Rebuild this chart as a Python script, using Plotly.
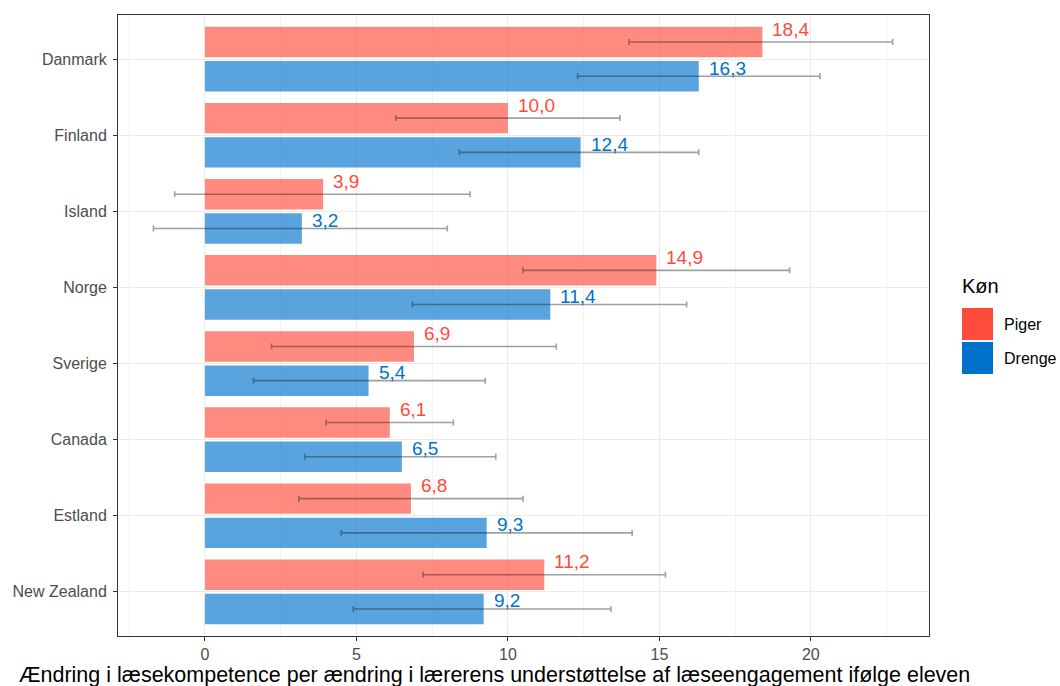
import plotly.graph_objects as go

# Country categories, top to bottom
categories = ["Danmark", "Finland", "Island", "Norge", "Sverige", "Canada", "Estland", "New Zealand"]

# Estimates per gender
piger = [18.4, 10.0, 3.9, 14.9, 6.9, 6.1, 6.8, 11.2]
drenge = [16.3, 12.4, 3.2, 11.4, 5.4, 6.5, 9.3, 9.2]

# Confidence interval bounds
piger_lo = [14.0, 6.3, -1.0, 10.5, 2.2, 4.0, 3.1, 7.2]
piger_hi = [22.7, 13.7, 8.75, 19.3, 11.6, 8.2, 10.5, 15.2]
drenge_lo = [12.3, 8.4, -1.7, 6.85, 1.6, 3.3, 4.5, 4.9]
drenge_hi = [20.3, 16.3, 8.0, 15.9, 9.25, 9.6, 14.1, 13.4]

x_ticks = [0, 5, 10, 15, 20]
legend_title = "Køn"
groups = ["Piger", "Drenge"]
x_title = "Ændring i læsekompetence per ændring i lærerens understøttelse af læseengagement ifølge eleven"

COL_PIGER = "#FF4B3B"
COL_DRENGE = "#0072CE"
FONT = "Liberation Sans, Arial, sans-serif"

# plot area in pixels (for legend placement in paper coordinates)
W, H = 1060, 686
ML, MR, MT, MB = 118, 131, 15, 50
PW, PH = W - ML - MR, H - MT - MB


def px_x(p):
    return (p - ML) / PW


def px_y(p):
    return 1 - (p - MT) / PH


def fmt(v):
    return f"{v:.1f}".replace(".", ",")


fig = go.Figure()

series = [
    (groups[0], piger, piger_lo, piger_hi, COL_PIGER, -0.425, -0.225, 13),
    (groups[1], drenge, drenge_lo, drenge_hi, COL_DRENGE, 0.025, 0.225, 8),
]

annotations = []
for name, vals, lo, hi, col, off, center, lift in series:
    fig.add_trace(go.Bar(
        name=name,
        orientation="h",
        y=categories,
        x=vals,
        offset=off,
        width=0.4,
        marker=dict(color=col, opacity=0.65, line=dict(width=0)),
        error_x=dict(
            type="data",
            symmetric=False,
            array=[h - v for h, v in zip(hi, vals)],
            arrayminus=[v - l for v, l in zip(vals, lo)],
            color="rgba(30,30,30,0.42)",
            thickness=1.6,
            width=3,
        ),
        showlegend=False,
        hoverinfo="skip",
    ))
    for i, v in enumerate(vals):
        annotations.append(dict(
            x=v, y=i + center, xref="x", yref="y",
            text=fmt(v), showarrow=False,
            xanchor="left", yanchor="middle",
            xshift=8, yshift=lift,
            font=dict(family=FONT, size=19, color=col),
        ))

# x-axis title
annotations.append(dict(
    x=px_x(494), y=px_y(674.5), xref="paper", yref="paper",
    text=x_title, showarrow=False, xanchor="center", yanchor="middle",
    borderpad=0,
    font=dict(family=FONT, size=21.5, color="#000000"),
))

# legend drawn as keys + labels
annotations.append(dict(
    x=px_x(960), y=px_y(286), xref="paper", yref="paper",
    text=legend_title, showarrow=False, xanchor="left", yanchor="middle",
    font=dict(family=FONT, size=20, color="#000000"),
))
shapes = []
for k, (name, col) in enumerate(zip(groups, [COL_PIGER, COL_DRENGE])):
    top = 308 + k * 34
    shapes.append(dict(
        type="rect", xref="paper", yref="paper",
        x0=px_x(962), x1=px_x(993), y0=px_y(top + 32), y1=px_y(top),
        fillcolor=col, line=dict(width=0),
    ))
    annotations.append(dict(
        x=px_x(1002), y=px_y(top + 16), xref="paper", yref="paper",
        text=name, showarrow=False, xanchor="left", yanchor="middle",
        font=dict(family=FONT, size=16, color="#000000"),
    ))

fig.update_layout(
    width=W, height=H,
    margin=dict(l=ML, r=MR, t=MT, b=MB),
    paper_bgcolor="white",
    plot_bgcolor="white",
    barmode="overlay",
    showlegend=False,
    annotations=annotations,
    shapes=shapes,
    font=dict(family=FONT),
)

fig.update_xaxes(
    range=[-2.87, 23.9],
    tickvals=x_ticks,
    ticktext=[str(t) for t in x_ticks],
    showgrid=True, gridcolor="#EBEBEB", gridwidth=1,
    minor=dict(dtick=2.5, tick0=0, showgrid=True, gridcolor="#F2F2F2", gridwidth=1),
    zeroline=False,
    showline=True, linecolor="#333333", linewidth=1, mirror=True,
    ticks="outside", ticklen=4, tickcolor="#333333",
    tickfont=dict(family=FONT, size=16, color="#4D4D4D"),
    ticklabelstandoff=0,
    automargin=False,
)

fig.update_yaxes(
    type="category",
    categoryorder="array", categoryarray=categories,
    range=[7.58, -0.58],
    showgrid=True, gridcolor="#EBEBEB", gridwidth=1,
    zeroline=False,
    showline=True, linecolor="#333333", linewidth=1, mirror=True,
    ticks="outside", ticklen=4, tickcolor="#333333",
    tickfont=dict(family=FONT, size=16, color="#4D4D4D"),
    ticklabelstandoff=3,
    automargin=False,
)

fig.write_html("out.html")
